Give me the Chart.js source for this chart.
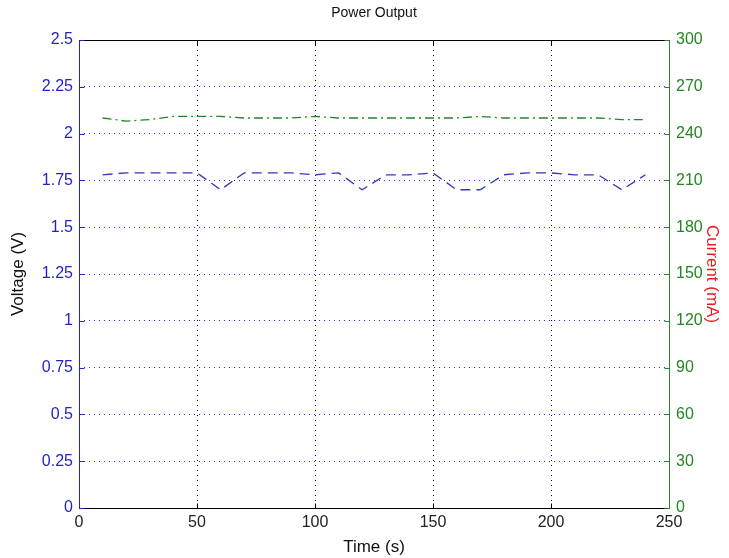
<!DOCTYPE html>
<html><head><meta charset="utf-8">
<script src="https://cdn.jsdelivr.net/npm/chart.js@4/dist/chart.umd.min.js"></script>
<style>html,body{margin:0;padding:0;background:#fff}</style>
</head><body>
<canvas id="c" width="729" height="558"></canvas>
<script>
const times = [10,20,30,40,50,60,70,80,90,100,110,120,130,140,150,160,170,180,190,200,210,220,230,240];
const voltage = [1.78,1.79,1.79,1.79,1.79,1.70,1.79,1.79,1.79,1.78,1.79,1.70,1.78,1.78,1.79,1.70,1.70,1.78,1.79,1.79,1.78,1.78,1.70,1.78];
const current = [250,248,249,251,251,251,250,250,250,251,250,250,250,250,250,250,251,250,250,250,250,250,249,249];
const timeTicks = [0,50,100,150,200,250];
const voltageTicks = [0,0.25,0.5,0.75,1,1.25,1.5,1.75,2,2.25,2.5];
const currentTicks = [0,30,60,90,120,150,180,210,240,270,300];

const BLUE = 'rgb(35,35,205)';
const GRIDBLUE = 'rgb(40,40,230)';
const LINEBLUE = 'rgb(55,55,185)';
const GREEN = 'rgb(35,135,35)';
const FAM = '"Liberation Sans", Arial, sans-serif';
const TICKFONT = {family:FAM, size:16};
const LABELFONT = {family:FAM, size:17};

const axesPlugin = {
  id:'matlabAxes',
  afterDraw(chart){
    const ctx = chart.ctx;
    const {left,right,top,bottom} = chart.chartArea;
    const x = chart.scales.x, y = chart.scales.y, y1 = chart.scales.y1;
    ctx.save();
    ctx.lineWidth = 1;
    ctx.setLineDash([]);
    const seg = (x0,y0,x1,y1_)=>{ctx.beginPath();ctx.moveTo(x0,y0);ctx.lineTo(x1,y1_);ctx.stroke();};
    const L = Math.round(left)+0.5, R = Math.round(right)+0.5, T = Math.round(top)+0.5, B = Math.round(bottom)+0.5;
    ctx.strokeStyle = '#000';
    seg(L,T,R,T); seg(L,B,R,B);
    timeTicks.forEach(v=>{const p=Math.round(x.getPixelForValue(v))+0.5; seg(p,B,p,B-5); seg(p,T,p,T+5);});
    ctx.strokeStyle = BLUE;
    seg(L,T,L,B);
    voltageTicks.forEach(v=>{const p=Math.round(y.getPixelForValue(v))+0.5; seg(L,p,L+5,p);});
    ctx.strokeStyle = GREEN;
    seg(R,T,R,B);
    currentTicks.forEach(v=>{const p=Math.round(y1.getPixelForValue(v))+0.5; seg(R,p,R-5,p);});
    // title centered over the plot area
    ctx.fillStyle = '#111';
    ctx.font = '14px ' + FAM;
    ctx.textAlign = 'center';
    ctx.textBaseline = 'middle';
    ctx.fillText('Power Output', (left+right)/2, 13);
    ctx.restore();
  }
};

new Chart(document.getElementById('c'), {
  type:'line',
  data:{
    datasets:[
      {label:'Voltage', data: times.map((t,i)=>({x:t,y:voltage[i]})), yAxisID:'y',
       borderColor:LINEBLUE, borderWidth:1.3, borderDash:[10,6], pointRadius:0, fill:false, tension:0},
      {label:'Current', data: times.map((t,i)=>({x:t,y:current[i]})), yAxisID:'y1',
       borderColor:GREEN, borderWidth:1.3, borderDash:[9,4,2,4], pointRadius:0, fill:false, tension:0}
    ]
  },
  options:{
    responsive:false, animation:false,
    layout:{padding:{top:40,left:0,right:0,bottom:0}},
    plugins:{ legend:{display:false}, tooltip:{enabled:false}, title:{display:false} },
    scales:{
      x:{type:'linear', min:0, max:250, afterFit(s){s.height=50;},
         afterBuildTicks(s){s.ticks = timeTicks.map(v=>({value:v}));},
         ticks:{color:'#222', font:TICKFONT, padding:5, maxRotation:0, callback:v=>String(v)},
         grid:{color:'#000', lineWidth:1, drawTicks:false}, border:{display:false, dash:[1,4]},
         title:{display:true, text:'Time (s)', color:'#111', font:LABELFONT, padding:{bottom:0,top:0}}},
      y:{type:'linear', position:'left', min:0, max:2.5, afterFit(s){s.width=79;},
         afterBuildTicks(s){s.ticks = voltageTicks.map(v=>({value:v}));},
         ticks:{color:BLUE, font:TICKFONT, padding:6, callback:v=>String(v)},
         grid:{color:GRIDBLUE, lineWidth:1, drawTicks:false}, border:{display:false, dash:[1,4]},
         title:{display:true, text:'Voltage (V)', color:'#111', font:LABELFONT, padding:{top:8,bottom:0}}},
      y1:{type:'linear', position:'right', min:0, max:300, afterFit(s){s.width=60;},
         afterBuildTicks(s){s.ticks = currentTicks.map(v=>({value:v}));},
         ticks:{color:GREEN, font:TICKFONT, padding:7, callback:v=>String(v)},
         grid:{drawOnChartArea:false, drawTicks:false}, border:{display:false},
         title:{display:true, text:'Current (mA)', color:'rgb(225,30,30)', font:LABELFONT, padding:{top:7,bottom:0}}}
    }
  },
  plugins:[axesPlugin]
});
</script>
</body></html>
